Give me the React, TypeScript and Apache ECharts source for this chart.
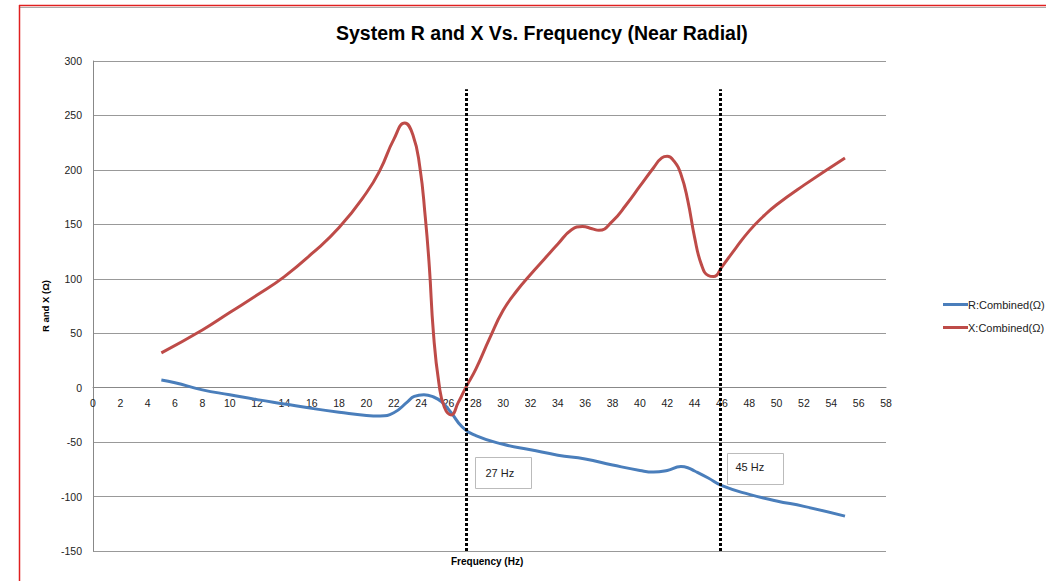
import React, { useEffect, useRef } from "react";
import * as echarts from "echarts";

const titleText = "System R and X Vs. Frequency (Near Radial)";
const seriesNames = ["R:Combined(Ω)", "X:Combined(Ω)"];

const freqR = [5, 6, 8, 10, 12, 14, 16, 18, 20, 21, 22, 23, 23.5, 24.2, 24.8, 25.5, 26.2, 27, 28, 30, 32, 34, 36, 38, 40, 41, 42, 43, 43.5, 44, 45, 46, 48, 50, 52, 55];
const valuesR = [7, 4.5, -2, -6.5, -11, -15, -19, -22.5, -25.5, -26, -23, -13, -8, -6.5, -8, -13, -23, -36, -44, -52, -57, -62, -65.5, -71, -76, -77.5, -76, -72.5, -73.5, -76.5, -83, -90, -98, -104, -109, -118];

const freqX = [5, 8, 10, 12, 14, 16, 18, 20, 21, 22, 22.8, 23.4, 23.9, 24.3, 24.6, 24.9, 25.3, 25.7, 26.2, 26.7, 27.3, 28, 29, 30, 31, 32, 33, 34, 35, 35.8, 36.5, 37, 38, 39, 40, 41, 41.6, 42, 42.5, 43, 43.5, 44, 44.5, 45, 45.4, 46, 47, 48, 49, 50, 52, 55];
const valuesX = [32, 53, 69, 85, 102, 123, 147, 179, 200, 228, 243, 232, 203, 157, 111, 50, 4, -18, -25, -14, 1, 17, 45, 71, 89, 104, 118, 132, 145, 148, 146, 144.5, 153, 168, 185, 202, 211, 212.5, 208, 196, 172, 138, 113, 103, 102, 111, 128, 144, 157, 168, 186, 211];

const markerFreqs = [27.3, 45.9];
const markerLabels = ["27 Hz", "45 Hz"];
const markerTop = 274;

const yMin = -150;
const yMax = 300;
const yStep = 50;
const xMin = 0;
const xMax = 58;
const xStep = 2;

export default function App() {
  const ref = useRef<HTMLDivElement>(null);
  useEffect(() => {
    if (!ref.current) return;
    const chart = echarts.init(ref.current, null, { renderer: "svg" });
    const font = "'Liberation Sans', Arial, sans-serif";
    const gridTop = 61;
    const gridBottom = 30;
    const gridH = 581 - gridTop - gridBottom;
    const zeroOffset = -gridH * (0 - yMin) / (yMax - yMin);
    chart.setOption({
      animation: false,
      backgroundColor: "#ffffff",
      title: {
        text: titleText,
        left: 331,
        top: 18,
        textStyle: { fontFamily: font, fontSize: 19.5, fontWeight: "bold", color: "#000" },
      },
      grid: { left: 93, top: gridTop, right: 160, bottom: gridBottom, containLabel: false },
      legend: {
        orient: "vertical",
        left: 938,
        top: 294,
        itemGap: 12,
        icon: "rect",
        itemWidth: 25,
        itemHeight: 3,
        textStyle: { fontFamily: font, fontSize: 11, color: "#222", padding: [0, 0, 0, -5] },
        data: seriesNames,
      },
      xAxis: {
        type: "value",
        min: xMin,
        max: xMax,
        interval: xStep,
        offset: zeroOffset,
        axisLine: { onZero: false, lineStyle: { color: "#888", width: 1 } },
        axisTick: { show: false },
        splitLine: { show: false },
        axisLabel: { margin: 10, fontFamily: font, fontSize: 10.5, color: "#222" },
      },
      yAxis: {
        type: "value",
        min: yMin,
        max: yMax,
        interval: yStep,
        name: "R and X (Ω)",
        nameLocation: "middle",
        nameGap: 41,
        nameTextStyle: { fontFamily: font, fontSize: 9.5, fontWeight: "bold", color: "#000" },
        axisLine: { show: true, onZero: false, lineStyle: { color: "#888", width: 1 } },
        axisTick: { show: false },
        splitLine: { show: true, lineStyle: { color: "#999", width: 1 } },
        axisLabel: { margin: 11, fontFamily: font, fontSize: 10.5, color: "#222" },
      },
      series: [
        {
          name: seriesNames[0],
          type: "line",
          data: freqR.map((f, i) => [f, valuesR[i]]),
          smooth: 0.5,
          showSymbol: false,
          symbol: "none",
          lineStyle: { color: "#4A7EBB", width: 3 },
          itemStyle: { color: "#4A7EBB" },
          z: 3,
        },
        {
          name: seriesNames[1],
          type: "line",
          data: freqX.map((f, i) => [f, valuesX[i]]),
          smooth: 0.5,
          showSymbol: false,
          symbol: "none",
          lineStyle: { color: "#BE4B48", width: 3 },
          itemStyle: { color: "#BE4B48" },
          z: 3,
          markLine: {
            silent: true,
            symbol: "none",
            label: { show: false },
            lineStyle: { color: "#000", width: 3, type: [3, 2] },
            data: markerFreqs.map((f) => [
              { coord: [f, yMin] },
              { coord: [f, markerTop] },
            ]),
          },
        },
      ],
      graphic: [
        { type: "line", shape: { x1: 19, y1: 7.5, x2: 1046, y2: 7.5 }, style: { stroke: "#aaa", lineWidth: 1 } },
        { type: "line", shape: { x1: 19, y1: 5.5, x2: 1046, y2: 5.5 }, style: { stroke: "#e02020", lineWidth: 1.5 } },
        { type: "line", shape: { x1: 19.5, y1: 5, x2: 19.5, y2: 581 }, style: { stroke: "#e02020", lineWidth: 1.5 } },
        {
          type: "group",
          left: 475,
          top: 457,
          children: [
            { type: "rect", shape: { x: 0, y: 0, width: 56, height: 31 }, style: { fill: "#fff", stroke: "#bbb", lineWidth: 1 } },
            { type: "text", x: 10, y: 10, style: { text: markerLabels[0], fontFamily: font, fontSize: 11, fill: "#222" } },
          ],
        },
        {
          type: "group",
          left: 727,
          top: 453,
          children: [
            { type: "rect", shape: { x: 0, y: 0, width: 56, height: 31 }, style: { fill: "#fff", stroke: "#bbb", lineWidth: 1 } },
            { type: "text", x: 8, y: 8, style: { text: markerLabels[1], fontFamily: font, fontSize: 11, fill: "#222" } },
          ],
        },
        {
          type: "text",
          left: 451,
          top: 556,
          style: { text: "Frequency (Hz)", fontFamily: font, fontSize: 10, fontWeight: "bold", fill: "#000" },
        },
      ],
    });
    return () => chart.dispose();
  }, []);
  return <div ref={ref} style={{ position: "fixed", left: 0, top: 0, width: 1046, height: 581 }} />;
}
